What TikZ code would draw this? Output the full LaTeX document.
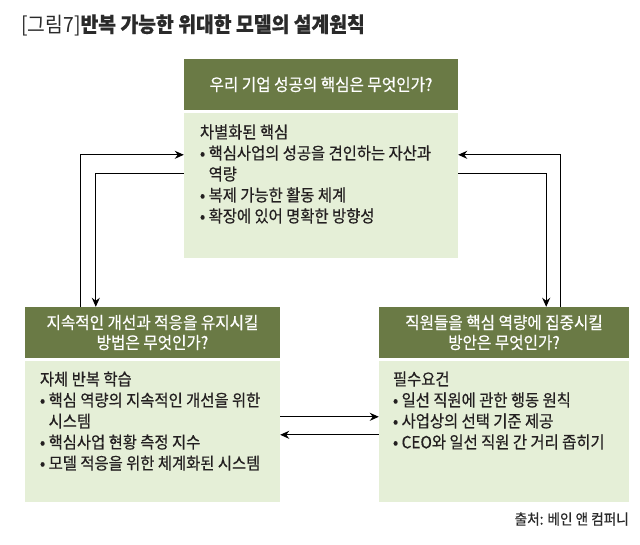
\documentclass[tikz,border=0pt]{standalone}
\usepackage{fontspec}
\setmainfont{Noto Sans CJK KR}[FakeStretch=0.92, FakeBold=0.5]
\newfontfamily\lightkr{Noto Sans CJK KR}[FakeStretch=0.92]
\usetikzlibrary{arrows.meta,calc}
\definecolor{hdr}{HTML}{6A7A45}
\definecolor{bdy}{HTML}{E5EFD7}
\definecolor{txt}{HTML}{231F20}
\definecolor{ttl}{HTML}{2A2A2A}
\begin{document}
\begin{tikzpicture}[x=1pt,y=-1pt,
  hdrbox/.style={fill=hdr, draw=none, inner sep=0pt, text=white,
    font=\fontsize{17}{20}\selectfont, align=center},
  bodybox/.style={fill=bdy, draw=none, inner sep=0pt},
  bodytext/.style={anchor=north west, inner sep=0pt, text=txt, align=left,
    font=\fontsize{16.7}{21}\selectfont},
  arr/.style={draw=black, line width=1pt, -{Stealth[length=9pt,width=8pt]}},
]
\useasboundingbox[fill=white] (0,0) rectangle (640,545);

% title
\node[anchor=west, inner sep=0pt, text=ttl, font=\fontsize{21}{24}\selectfont] (title) at (21,25)
  {{\lightkr [그림7]}{\bfseries 반복 가능한 위대한 모델의 설계원칙}};

% top box
\node[hdrbox, minimum width=274pt, minimum height=51pt] (toph) at (321,84.5)
  {\raisebox{-2pt}{우리 기업 성공의 핵심은 무엇인가?}};
\node[bodybox, minimum width=274pt, minimum height=145pt] (topb) at (321,185.5) {};
\node[bodytext] (topt) at ([xshift=16pt,yshift=-11.5pt]topb.north west)
  {차별화된 핵심\\
   • 핵심사업의 성공을 견인하는 자산과\\
   \hphantom{• }역량\\
   • 복제 가능한 활동 체계\\
   • 확장에 있어 명확한 방향성};

% left box
\node[hdrbox, minimum width=255pt, minimum height=51pt] (lefth) at (152.5,332.5)
  {지속적인 개선과 적응을 유지시킬\\방법은 무엇인가?};
\node[bodybox, minimum width=255pt, minimum height=141pt] (leftb) at (152.5,431.5) {};
\node[bodytext] (leftt) at ([xshift=15pt,yshift=-10.5pt]leftb.north west)
  {자체 반복 학습\\
   • 핵심 역량의 지속적인 개선을 위한\\
   \hphantom{• }시스템\\
   • 핵심사업 현황 측정 지수\\
   • 모델 적응을 위한 체계화된 시스템};

% right box
\node[hdrbox, minimum width=250pt, minimum height=51pt] (righth) at (504,332.5)
  {직원들을 핵심 역량에 집중시킬\\방안은 무엇인가?};
\node[bodybox, minimum width=250pt, minimum height=141pt] (rightb) at (504,431.5) {};
\node[bodytext] (rightt) at ([xshift=14pt,yshift=-10.5pt]rightb.north west)
  {필수요건\\
   • 일선 직원에 관한 행동 원칙\\
   • 사업상의 선택 기준 제공\\
   • CEO와 일선 직원 간 거리 좁히기};

% source
\node[anchor=east, inner sep=0pt, text=ttl, font=\fontsize{14.8}{16}\selectfont] (src) at (629,519)
  {출처: 베인 앤 컴퍼니};

% connectors
\draw[arr] ([xshift=56pt]lefth.north west) |- ([yshift=-42pt]topb.north west);
\draw[arr] ([yshift=-61pt]topb.north west) -| ([xshift=71pt]lefth.north west);
\draw[arr] ([xshift=-69pt]righth.north east) |- ([yshift=-42pt]topb.north east);
\draw[arr] ([yshift=-61pt]topb.north east) -| ([xshift=-83pt]righth.north east);
\draw[arr] ([yshift=-56pt]leftb.north east) -- ([yshift=-56pt]rightb.north west);
\draw[arr] ([yshift=-74pt]rightb.north west) -- ([yshift=-74pt]leftb.north east);
\end{tikzpicture}
\end{document}
